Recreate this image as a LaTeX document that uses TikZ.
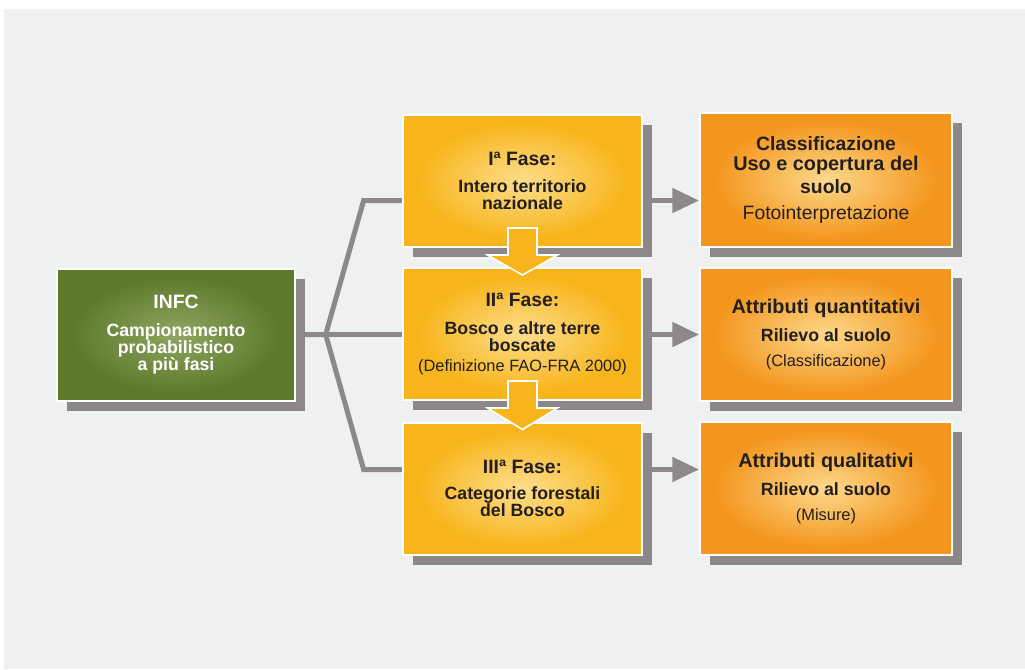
\documentclass[tikz,border=0pt]{standalone}
\usepackage{fontspec}
\setmainfont{Liberation Sans}
\usetikzlibrary{arrows.meta,calc,shadows,backgrounds}
\definecolor{bggray}{HTML}{EFF0F2}
\definecolor{lingray}{HTML}{8C8988}
\definecolor{shgray}{HTML}{8C8888}
\definecolor{txtdark}{HTML}{231F20}
\definecolor{arryel}{HTML}{F8B51B}
\pgfdeclareradialshading{glowyel}{\pgfpoint{0bp}{0bp}}{rgb(0bp)=(0.99,0.87,0.55);rgb(22bp)=(0.973,0.71,0.106);rgb(50bp)=(0.973,0.71,0.106)}
\pgfdeclareradialshading{gloworg}{\pgfpoint{0bp}{0bp}}{rgb(0bp)=(0.99,0.85,0.55);rgb(22bp)=(0.957,0.59,0.118);rgb(50bp)=(0.957,0.59,0.118)}
\pgfdeclareradialshading{glowgrn}{\pgfpoint{0bp}{0bp}}{rgb(0bp)=(0.56,0.65,0.38);rgb(22bp)=(0.36,0.48,0.17);rgb(50bp)=(0.36,0.48,0.17)}
\newcommand{\ttl}{\fontsize{14.5}{15}\selectfont\bfseries}
\newcommand{\rtl}{\fontsize{14.9}{15}\selectfont\bfseries}
\newcommand{\sub}{\fontsize{13.3}{12.75}\selectfont\bfseries}
\newcommand{\nrm}{\fontsize{14.5}{15}\selectfont\mdseries}
\newcommand{\sml}{\fontsize{12.3}{13}\selectfont\mdseries}
\begin{document}
\begin{tikzpicture}[x=0.75pt,y=-0.75pt,
    box/.style={draw=white, line width=1.5pt, align=center, text=txtdark, font=\sub,
      general shadow={fill=shgray, shadow xshift=7.5pt, shadow yshift=-7.5pt}},
    phase/.style={box, shading=glowyel, minimum width=179pt, minimum height=99pt},
    result/.style={box, shading=gloworg, minimum width=189pt, minimum height=100pt},
    conn/.style={lingray, line width=3.75pt},
    arr/.style={conn, -{Triangle[length=20pt,width=18pt]}},
    blockarr/.style={fill=arryel, draw=white, line width=1.2pt}]
\useasboundingbox (0,0) rectangle (1025,669);

\node[box, shading=glowgrn, text=white, minimum width=178pt, minimum height=99pt] (infc) at (176,334.5)
  {\ttl INFC\\[8pt]\sub Campionamento\\\sub probabilistico\\\sub a più fasi};

\node[phase] (ph1) at (522.5,181) {\ttl Iª Fase:\\[8pt]\sub Intero territorio\\\sub nazionale};
\node[phase] (ph2) at (522.5,334) {\ttl IIª Fase:\\[8pt]\sub Bosco e altre terre\\\sub boscate\\[2pt]\sml (Definizione FAO-FRA 2000)};
\node[phase] (ph3) at (522.5,488.5) {\ttl IIIª Fase:\\[7pt]\sub Categorie forestali\\\sub del Bosco};

\node[result] (r1) at (826,180) {\ttl Classificazione\\[2.5pt]\rtl Uso e copertura del\\[2pt]\ttl suolo\\[7pt]\nrm Fotointerpretazione};
\node[result] (r2) at (826,334.5) {\rtl Attributi quantitativi\\[8pt]\sub Rilievo al suolo\\[6pt]\sml (Classificazione)};
\node[result] (r3) at (826,488.5) {\rtl Attributi qualitativi\\[8pt]\sub Rilievo al suolo\\[6pt]\sml (Misure)};

\begin{scope}[on background layer]
\fill[white] (0,0) rectangle (1025,669);
\fill[bggray] (4,9) rectangle (1025,669);
\coordinate (j) at ($(infc.east)+(30,0)$);
\coordinate (c1) at ($(j)+(38,-134)$);
\coordinate (c3) at ($(j)+(38,135)$);
\draw[conn] (infc.east) -- (j) -- (c1) -- (c1 -| ph1.west);
\draw[conn] (j) -- (j -| ph2.west);
\draw[conn] (j) -- (c3) -- (c3 -| ph3.west);
\draw[arr] (c1 -| ph1.east) -- (c1 -| r1.west);
\draw[arr] (j -| ph2.east) -- (j -| r2.west);
\draw[arr] (c3 -| ph3.east) -- (c3 -| r3.west);
\end{scope}

\foreach \a/\b in {ph1/ph2,ph2/ph3}
  \draw[blockarr] ($(\a.south)+(-14.5,-20)$) -- ($(\a.south)+(-14.5,7)$) -- ($(\a.south)+(-35,7)$)
    -- ($(\b.north)+(0,8)$) -- ($(\a.south)+(35,7)$) -- ($(\a.south)+(14.5,7)$) -- ($(\a.south)+(14.5,-20)$) -- cycle;
\end{tikzpicture}
\end{document}
